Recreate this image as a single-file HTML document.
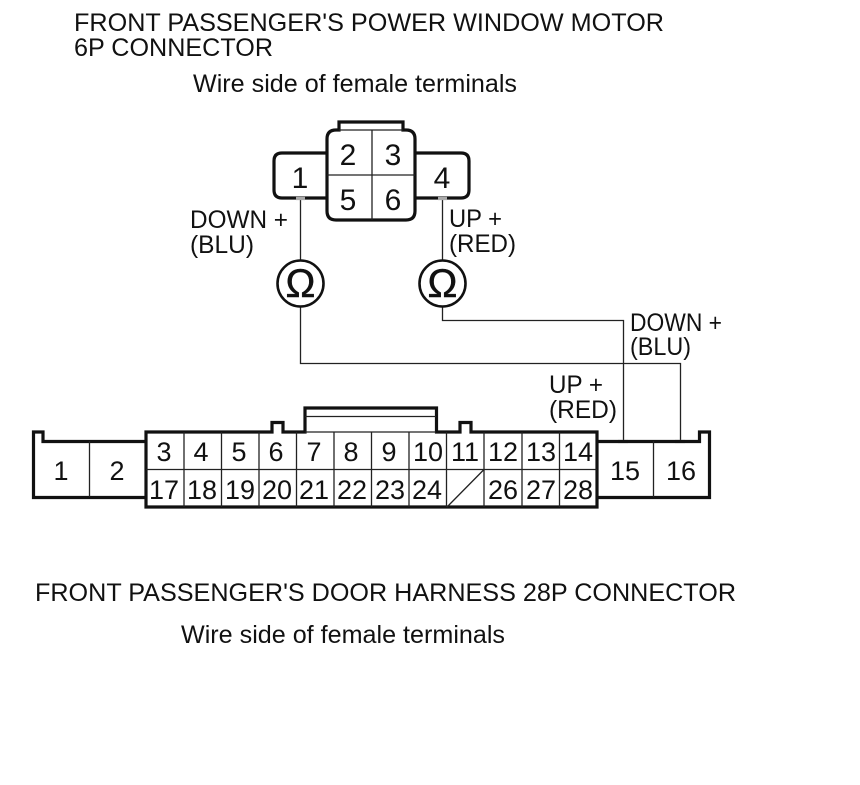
<!DOCTYPE html>
<html><head><meta charset="utf-8"><style>
html,body{margin:0;padding:0;background:#fff}
svg{display:block}
text{font-family:"Liberation Sans",sans-serif;fill:#111}
.t{font-size:25px}
.n{font-size:30px;text-anchor:middle}
.m{font-size:27px;text-anchor:middle}
.k{fill:none;stroke:#111;stroke-width:3.2}
.l{fill:none;stroke:#222;stroke-width:1.3}
.o{font-size:40px;text-anchor:middle;stroke:#111;stroke-width:.5}
</style></head><body>
<svg width="860" height="785" viewBox="0 0 860 785" xmlns="http://www.w3.org/2000/svg">
<rect width="860" height="785" fill="#fff"/>
<text class="t" x="74" y="31" textLength="590" lengthAdjust="spacingAndGlyphs">FRONT PASSENGER'S POWER WINDOW MOTOR</text>
<text class="t" x="74" y="56" textLength="199" lengthAdjust="spacingAndGlyphs">6P CONNECTOR</text>
<text class="t" x="193" y="92" textLength="324" lengthAdjust="spacingAndGlyphs">Wire side of female terminals</text>
<text class="t" x="35" y="601" textLength="701" lengthAdjust="spacingAndGlyphs">FRONT PASSENGER'S DOOR HARNESS 28P CONNECTOR</text>
<text class="t" x="181" y="643" textLength="324" lengthAdjust="spacingAndGlyphs">Wire side of female terminals</text>

<!-- 6P connector -->
<path class="k" d="M339 130V122H403V130H406Q415 130 415 139V211Q415 220 406 220H336Q327 220 327 211V139Q327 130 336 130H339Z"/>
<path class="l" d="M339 130H403M327 175H415M372 130V220"/>
<path class="k" d="M327 153H282Q274 153 274 161V190Q274 198 282 198H327"/>
<path class="k" d="M415 153H461Q469 153 469 161V190Q469 198 461 198H415"/>
<text class="n" x="348" y="165">2</text><text class="n" x="393" y="165">3</text>
<text class="n" x="348" y="210">5</text><text class="n" x="393" y="210">6</text>
<text class="n" x="300" y="188">1</text><text class="n" x="442" y="188">4</text>

<!-- wires -->
<path class="l" d="M300.500 197V261M300.500 306V363.500H680.500V441"/>
<path class="l" d="M442.500 197V261M442.500 306V320.500H623.500V441"/>
<path d="M296 198.500h9M438 198.500h9M618 441.500h10M675 441.500h10" stroke="#aaa" stroke-width="3.200" fill="none"/>

<!-- ohm meters -->
<circle cx="300.500" cy="283.500" r="23" fill="#fff" stroke="#111" stroke-width="2.600"/>
<circle cx="442.500" cy="283.500" r="23" fill="#fff" stroke="#111" stroke-width="2.600"/>
<text class="o" x="300.500" y="297">Ω</text>
<text class="o" x="442.500" y="297">Ω</text>

<text class="t" x="190" y="228" textLength="98" lengthAdjust="spacingAndGlyphs">DOWN +</text>
<text class="t" x="190" y="253" textLength="64" lengthAdjust="spacingAndGlyphs">(BLU)</text>
<text class="t" x="449" y="227" textLength="53" lengthAdjust="spacingAndGlyphs">UP +</text>
<text class="t" x="449" y="252" textLength="67" lengthAdjust="spacingAndGlyphs">(RED)</text>
<text class="t" x="630" y="331" textLength="92" lengthAdjust="spacingAndGlyphs">DOWN +</text>
<text class="t" x="630" y="355" textLength="61" lengthAdjust="spacingAndGlyphs">(BLU)</text>
<text class="t" x="549" y="393" textLength="54" lengthAdjust="spacingAndGlyphs">UP +</text>
<text class="t" x="549" y="418" textLength="68" lengthAdjust="spacingAndGlyphs">(RED)</text>

<!-- 28P connector -->
<path class="k" d="M146 441.500H43V432H33.500V497.500H146"/>
<path class="k" d="M597 441.500H699.500V432H709.500V497.500H597"/>
<path class="l" d="M89.500 441V497M653.500 441V497"/>
<path class="k" d="M146 432H272V422.500H283V432H305V408H436.500V432H460V422.500H471V432H597V507H146Z"/>
<path class="l" d="M305 416.500H436M305 432H436M146 469.500H597M184 432V507M221.500 432V507M259 432V507M296.500 432V507M334 432V507M371.500 432V507M409 432V507M446.500 432V507M484 432V507M522 432V507M559.500 432V507M447 507L484 469.500"/>

<text class="m" x="61" y="480">1</text><text class="m" x="117" y="480">2</text>
<text class="m" x="625" y="480">15</text><text class="m" x="681" y="480">16</text>
<text class="m" x="164" y="461">3</text><text class="m" x="201" y="461">4</text>
<text class="m" x="239" y="461">5</text><text class="m" x="276" y="461">6</text>
<text class="m" x="314" y="461">7</text><text class="m" x="351" y="461">8</text>
<text class="m" x="389" y="461">9</text><text class="m" x="428" y="461">10</text>
<text class="m" x="465" y="461">11</text><text class="m" x="503" y="461">12</text>
<text class="m" x="541" y="461">13</text><text class="m" x="578" y="461">14</text>
<text class="m" x="164" y="499">17</text><text class="m" x="202" y="499">18</text>
<text class="m" x="240" y="499">19</text><text class="m" x="277" y="499">20</text>
<text class="m" x="314" y="499">21</text><text class="m" x="352" y="499">22</text>
<text class="m" x="390" y="499">23</text><text class="m" x="427" y="499">24</text>
<text class="m" x="503" y="499">26</text><text class="m" x="541" y="499">27</text>
<text class="m" x="578" y="499">28</text>
</svg>
</body></html>
